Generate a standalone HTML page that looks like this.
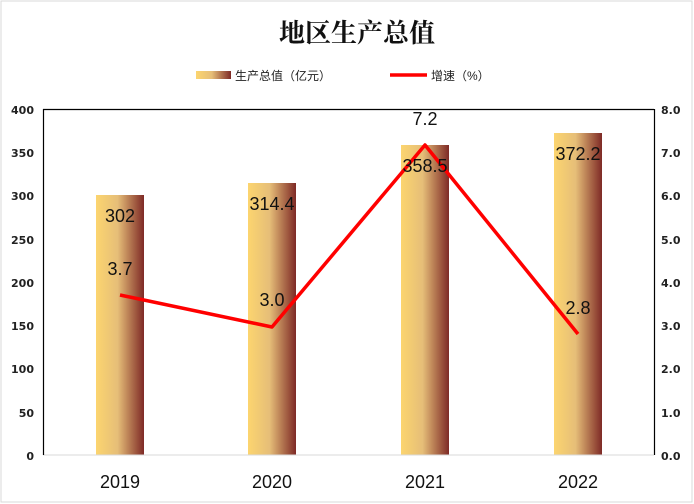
<!DOCTYPE html>
<html><head><meta charset="utf-8"><style>
body{margin:0;background:#fff}
svg{display:block}
</style></head><body>
<svg width="694" height="504" viewBox="0 0 694 504" xmlns="http://www.w3.org/2000/svg">
<defs>
<linearGradient id="g" x1="0" x2="1" y1="0" y2="0">
<stop offset="0" stop-color="#fcd56f"/><stop offset="0.45" stop-color="#e6be78"/><stop offset="1" stop-color="#7e2a26"/>
</linearGradient>
</defs>
<rect x="1" y="1" width="691" height="501" fill="#fff" stroke="#d9d9d9" stroke-width="1"/>
<text x="357" y="42" text-anchor="middle" font-family="'Noto Serif CJK SC',serif" font-weight="bold" font-size="26" fill="#111">地区生产总值</text>
<rect x="196" y="71" width="35" height="8" fill="url(#g)"/>
<text x="235" y="80" font-family="'Liberation Sans','Noto Sans CJK SC',sans-serif" font-size="12" fill="#222">生产总值（亿元）</text>
<line x1="390" y1="75" x2="427" y2="75" stroke="#f00" stroke-width="3.5"/>
<text x="431" y="80" font-family="'Liberation Sans','Noto Sans CJK SC',sans-serif" font-size="12" fill="#222">增速（%）</text>
<g font-family="'DejaVu Sans',sans-serif" font-size="11" font-weight="bold" fill="#222" text-anchor="end">
<text x="34" y="114">400</text><text x="34" y="157">350</text><text x="34" y="200">300</text><text x="34" y="244">250</text><text x="34" y="287">200</text><text x="34" y="330">150</text><text x="34" y="373">100</text><text x="34" y="417">50</text><text x="34" y="460">0</text>
</g>
<g font-family="'DejaVu Sans',sans-serif" font-size="11" font-weight="bold" fill="#222" text-anchor="start">
<text x="661" y="114">8.0</text><text x="661" y="157">7.0</text><text x="661" y="200">6.0</text><text x="661" y="244">5.0</text><text x="661" y="287">4.0</text><text x="661" y="330">3.0</text><text x="661" y="373">2.0</text><text x="661" y="417">1.0</text><text x="661" y="460">0.0</text>
</g>
<rect x="96" y="195" width="48" height="260" fill="url(#g)"/>
<rect x="248" y="183" width="48" height="272" fill="url(#g)"/>
<rect x="401" y="145" width="48" height="310" fill="url(#g)"/>
<rect x="554" y="133" width="48" height="322" fill="url(#g)"/>
<line x1="43" y1="455" x2="654" y2="455" stroke="#d9d9d9" stroke-width="1"/>
<line x1="43.5" y1="109" x2="43.5" y2="455" stroke="#000" stroke-width="1.2"/>
<line x1="43" y1="109.5" x2="654" y2="109.5" stroke="#000" stroke-width="1.2"/>
<line x1="654.5" y1="109" x2="654.5" y2="455" stroke="#000" stroke-width="1.2"/>
<polyline points="120,295 272,327 425,145 578,334" fill="none" stroke="#f00" stroke-width="3.5" stroke-linejoin="round"/>
<g font-family="'Liberation Sans',sans-serif" font-size="18" fill="#111" text-anchor="middle">
<text x="120" y="222">302</text><text x="272" y="210">314.4</text><text x="425" y="172">358.5</text><text x="578" y="160">372.2</text>
<text x="120" y="275">3.7</text><text x="272" y="306">3.0</text><text x="425" y="125">7.2</text><text x="578" y="314">2.8</text>
<text x="120" y="488">2019</text><text x="272" y="488">2020</text><text x="425" y="488">2021</text><text x="578" y="488">2022</text>
</g>
</svg>
</body></html>
